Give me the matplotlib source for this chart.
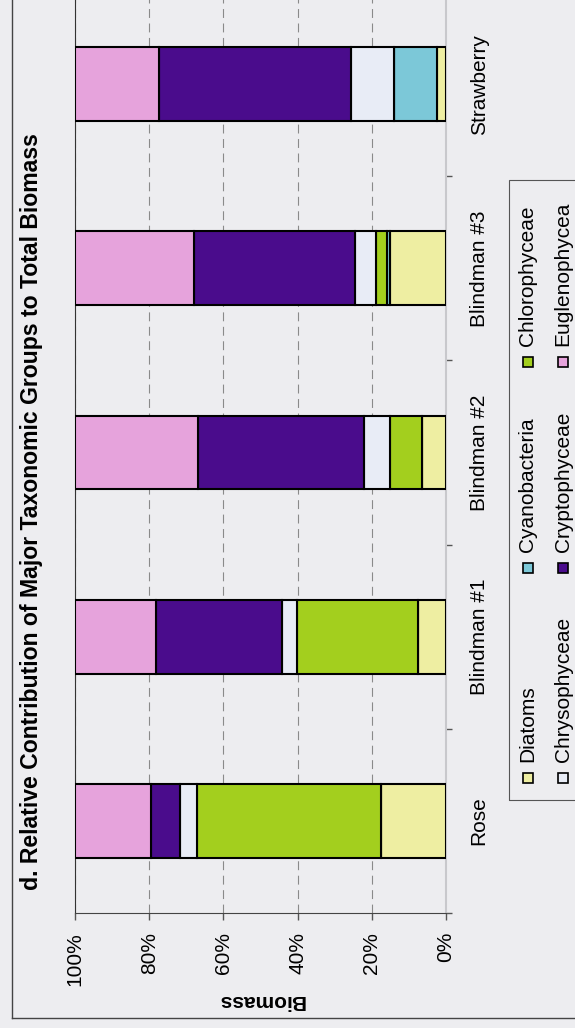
import matplotlib.pyplot as plt
import numpy as np
from matplotlib.patches import Rectangle
from matplotlib.lines import Line2D

plt.rcParams['font.family'] = ['Liberation Sans', 'DejaVu Sans']

# biomass share (%) of each group per lake, stacked from 0%
categories = ['Rose', 'Blindman #1', 'Blindman #2', 'Blindman #3', 'Strawberry']
diatoms = [17.5, 7.6, 6.6, 15.0, 2.4]
cyanobacteria = [0.0, 0.0, 0.0, 1.0, 11.6]
chlorophyceae = [49.7, 32.6, 8.4, 2.8, 0.0]
chrysophyceae = [4.4, 4.0, 7.1, 5.6, 11.6]
cryptophyceae = [7.8, 34.1, 44.8, 43.5, 51.7]
euglenophycea = [20.6, 21.7, 33.1, 32.1, 22.7]

group_names = ['Diatoms', 'Cyanobacteria', 'Chlorophyceae',
               'Chrysophyceae', 'Cryptophyceae', 'Euglenophycea']
group_values = [diatoms, cyanobacteria, chlorophyceae,
                chrysophyceae, cryptophyceae, euglenophycea]
group_colors = ['#EEEEA2', '#7CC8D8', '#A3CF1E', '#E8ECF6', '#4A0C8C', '#E6A3DC']
pct_ticks = [0, 20, 40, 60, 80, 100]

title = 'd. Relative Contribution of Major Taxonomic Groups to Total Biomass'

bg = '#EDEDF0'
W, H = 575, 1028


def fx(px):
    return px / W


def fy(py):
    return 1 - py / H


fig = plt.figure(figsize=(W / 100, H / 100), dpi=100, facecolor=bg)

# chart is laid on its side: value axis runs right-to-left along the bottom
ax = fig.add_axes([fx(75), fy(913), fx(446) - fx(75), (913 + 8) / H])
ax.set_facecolor(bg)

ypos = np.arange(len(categories))
left = np.zeros(len(categories))
for name, vals, col in zip(group_names, group_values, group_colors):
    ax.barh(ypos, vals, left=left, height=0.40, color=col,
            edgecolor='black', linewidth=1.5, zorder=3, label=name)
    left += np.array(vals)

ax.set_xlim(100, 0)
ax.set_ylim(-0.5, len(categories) - 0.5)

ax.set_xticks(pct_ticks)
ax.set_xticklabels([f'{t}%' for t in pct_ticks], rotation=90, fontsize=15)
ax.tick_params(axis='x', direction='out', length=5, width=1, color='#555555', pad=8.5)

ax.yaxis.tick_right()
ax.set_yticks(ypos)
ax.set_yticklabels(categories, rotation=90, fontsize=15, va='center')
ax.set_yticks(np.arange(-0.5, len(categories), 1), minor=True)
ax.tick_params(axis='y', which='major', length=0, pad=17)
ax.tick_params(axis='y', which='minor', length=4, width=1, color='#555555', direction='out')

ax.set_xlabel('Biomass', rotation=180, fontsize=15, fontweight='bold', labelpad=4)

ax.set_axisbelow(True)
ax.xaxis.grid(True, linestyle=(0, (8, 5)), color='#8a8a8a', linewidth=0.8)

ax.spines['top'].set_visible(False)
ax.spines['left'].set_color('#333333')
ax.spines['bottom'].set_color('#444444')
ax.spines['right'].set_color('#C8C8CC')
ax.spines['right'].set_linewidth(1.5)

fig.text(fx(32), fy(890), title, rotation=90, ha='center', va='bottom',
         fontsize=16.6, fontweight='bold')

# outer chart frame
fig.add_artist(Line2D([fx(12), fx(12)], [fy(1018), 1.02], transform=fig.transFigure,
                      color='#444444', linewidth=1))
fig.add_artist(Line2D([fx(12), 1.02], [fy(1018), fy(1018)], transform=fig.transFigure,
                      color='#444444', linewidth=1))

# legend box, two columns of three
fig.add_artist(Rectangle((fx(509), fy(800)), 0.2, (800 - 180) / H, fill=False,
                         edgecolor='#555555', linewidth=0.8, transform=fig.transFigure))
col_x = [528, 563]
row_y = [778, 568, 362]
for i, (name, col) in enumerate(zip(group_names, group_colors)):
    x = col_x[i // 3]
    y = row_y[i % 3]
    fig.add_artist(Rectangle((fx(x - 5), fy(y + 5)), 10 / W, 10 / H, facecolor=col,
                             edgecolor='black', linewidth=1.2, transform=fig.transFigure))
    fig.text(fx(x), fy(y - 16), name, rotation=90, ha='center', va='bottom', fontsize=15)

fig.savefig('out.png', dpi=100, facecolor=bg)
